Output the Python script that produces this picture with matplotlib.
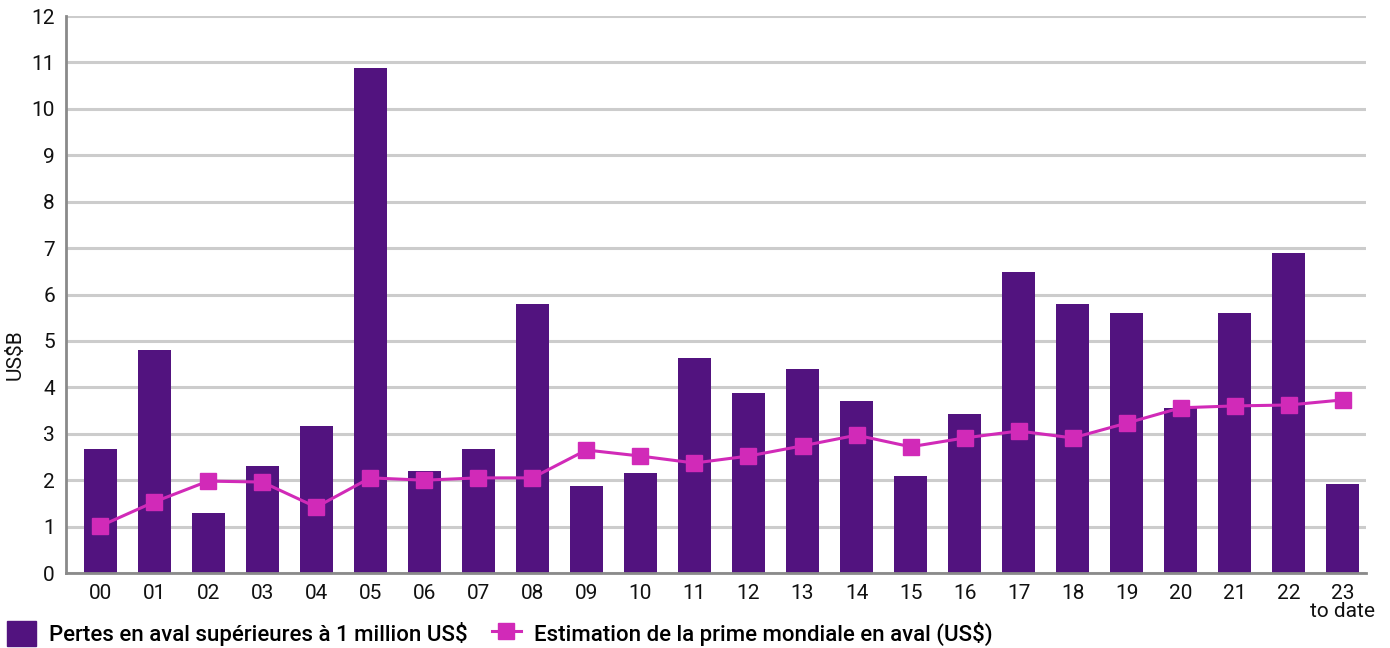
import matplotlib.pyplot as plt
from matplotlib.lines import Line2D
from matplotlib.patches import Patch

plt.rcParams['font.family'] = ['Roboto', 'DejaVu Sans']

years = ["00", "01", "02", "03", "04", "05", "06", "07", "08", "09", "10", "11",
         "12", "13", "14", "15", "16", "17", "18", "19", "20", "21", "22", "23\nto date"]
pertes = [2.67, 4.81, 1.29, 2.31, 3.17, 10.88, 2.20, 2.67, 5.80, 1.88, 2.16, 4.63,
          3.88, 4.40, 3.71, 2.09, 3.43, 6.49, 5.80, 5.60, 3.56, 5.60, 6.90, 1.92]
prime = [1.01, 1.53, 1.98, 1.96, 1.42, 2.05, 2.00, 2.05, 2.05, 2.65, 2.52, 2.37,
         2.52, 2.74, 2.97, 2.72, 2.91, 3.06, 2.91, 3.23, 3.56, 3.60, 3.62, 3.73]

bar_color = "#52137F"
line_color = "#D12AB8"

fig = plt.figure(figsize=(13.9, 6.48), dpi=100)
ax = fig.add_axes([0.0475, 0.1157, 0.9353, 0.8596])

x = list(range(len(years)))
ax.bar(x, pertes, width=0.61, color=bar_color, zorder=2)
ax.plot(x, prime, color=line_color, linewidth=2.2, marker="s", markersize=11, zorder=3)

ax.set_xlim(-0.63, 23.43)
ax.set_ylim(0, 12)
ax.set_yticks(range(0, 13))
ax.set_xticks(x)
ax.set_xticklabels(years, linespacing=0.9)
ax.tick_params(axis="both", length=0, labelsize=15, colors="#111111")
ax.tick_params(axis="x", pad=8)
ax.tick_params(axis="y", pad=8)

ax.grid(axis="y", color="#cccccc", linewidth=2.2, zorder=0)
for s in ["top", "right"]:
    ax.spines[s].set_visible(False)
ax.spines["left"].set_color("#8a8a8a")
ax.spines["left"].set_linewidth(2)
ax.spines["bottom"].set_color("#8a8a8a")
ax.spines["bottom"].set_linewidth(2)

fig.text(0.011, 0.453, "US$B", rotation=90, fontsize=15, ha="center", va="center",
         color="#111111")

handles = [Patch(color=bar_color),
           Line2D([0], [0], color=line_color, linewidth=2.2, marker="s", markersize=11)]
labels = ["Pertes en aval supérieures à 1 million US$",
          "Estimation de la prime mondiale en aval (US$)"]
fig.legend(handles, labels, loc="center left", bbox_to_anchor=(0.0, 0.022), ncol=2,
           frameon=False, prop={"size": 16, "weight": "medium"}, borderpad=0,
           borderaxespad=0.3, handlelength=1.3, handleheight=1.3,
           columnspacing=1.1, handletextpad=0.6)

fig.savefig("out.png", dpi=100)
